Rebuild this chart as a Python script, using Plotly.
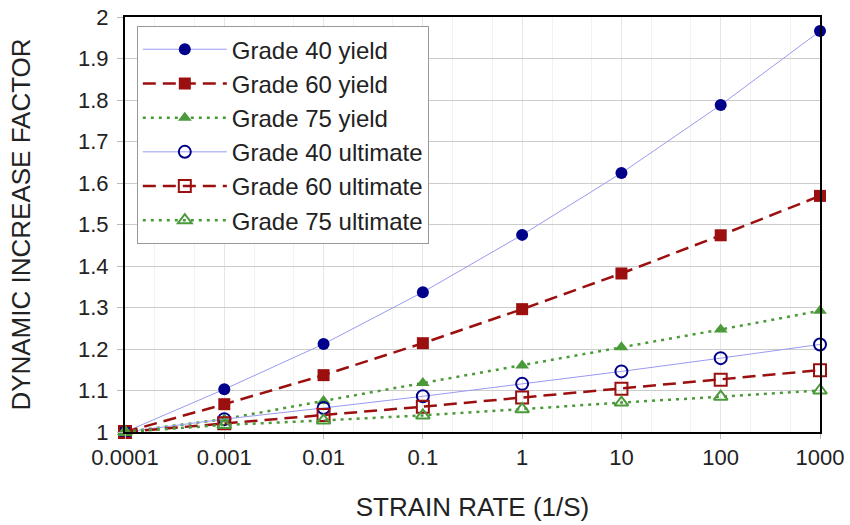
import plotly.graph_objects as go

strain_rate = [0.0001, 0.001, 0.01, 0.1, 1, 10, 100, 1000]
tick_labels = ["0.0001", "0.001", "0.01", "0.1", "1", "10", "100", "1000"]

g40_yield = [1.0, 1.103, 1.212, 1.337, 1.475, 1.624, 1.788, 1.966]
g60_yield = [1.0, 1.067, 1.137, 1.214, 1.296, 1.382, 1.474, 1.569]
g75_yield = [1.0, 1.031, 1.075, 1.118, 1.160, 1.204, 1.247, 1.292]
g40_ult = [1.0, 1.031, 1.058, 1.086, 1.116, 1.146, 1.178, 1.211]
g60_ult = [1.0, 1.021, 1.041, 1.061, 1.083, 1.104, 1.126, 1.149]
g75_ult = [1.0, 1.017, 1.028, 1.040, 1.055, 1.071, 1.085, 1.100]

BLUE_LINE = "#9a9af0"
BLUE_MARK = "#00008b"
RED = "#9b0f0f"
GREEN = "#4a9a3a"
LONG_DASH = "13px,7px"
SPACED_DOT = "3px,5px"

series = [
    ("Grade 40 yield", g40_yield, BLUE_LINE, BLUE_MARK, "solid", 1, "circle"),
    ("Grade 60 yield", g60_yield, RED, RED, LONG_DASH, 2.5, "square"),
    ("Grade 75 yield", g75_yield, GREEN, GREEN, SPACED_DOT, 2.5, "triangle-up"),
    ("Grade 40 ultimate", g40_ult, BLUE_LINE, BLUE_MARK, "solid", 1, "circle-open"),
    ("Grade 60 ultimate", g60_ult, RED, RED, LONG_DASH, 2.5, "square-open"),
    ("Grade 75 ultimate", g75_ult, GREEN, GREEN, SPACED_DOT, 2.5, "triangle-up-open"),
]

fig = go.Figure()
for name, vals, lc, mc, dash, lw, sym in series:
    fig.add_trace(go.Scatter(
        x=strain_rate, y=vals, name=name, mode="lines+markers",
        line=dict(color=lc, width=lw, dash=dash),
        marker=dict(symbol=sym, size=12, color=mc,
                    line=dict(color=mc, width=2 if "open" in sym else 0)),
        cliponaxis=False,
    ))

font_family = "Liberation Sans, Arial, sans-serif"
fig.update_layout(
    width=850, height=525,
    margin=dict(l=125, r=30, t=17, b=93),
    paper_bgcolor="white", plot_bgcolor="white",
    font=dict(family=font_family, size=22, color="#222222"),
    legend=dict(
        x=0.017, y=0.978, xanchor="left", yanchor="top",
        bgcolor="white", bordercolor="#999999", borderwidth=1,
        font=dict(size=24, color="#222222"),
        itemwidth=84,
    ),
)
fig.update_xaxes(
    type="log", range=[-4, 3], automargin=False,
    tickvals=strain_rate, ticktext=tick_labels,
    ticks="outside", ticklen=5, tickcolor="#bbbbbb",
    showline=True, linecolor="black", linewidth=2, mirror=True,
    showgrid=True, gridcolor="#e6e6e6", gridwidth=1,
    minor=dict(showgrid=True, gridcolor="#f2f2f2", ticks=""),
    title=dict(text="STRAIN RATE (1/S)", standoff=28),
    zeroline=False,
)
fig.update_yaxes(
    range=[1, 2], dtick=0.1, tickformat="~g", automargin=False,
    ticks="outside", ticklen=6, tickcolor="#bbbbbb", ticklabelstandoff=4,
    showline=True, linecolor="black", linewidth=2, mirror=True,
    showgrid=True, gridcolor="#cccccc", gridwidth=1,
    title=dict(text="DYNAMIC INCREASE FACTOR", standoff=40),
    zeroline=False,
)

fig.write_html("out.html")
